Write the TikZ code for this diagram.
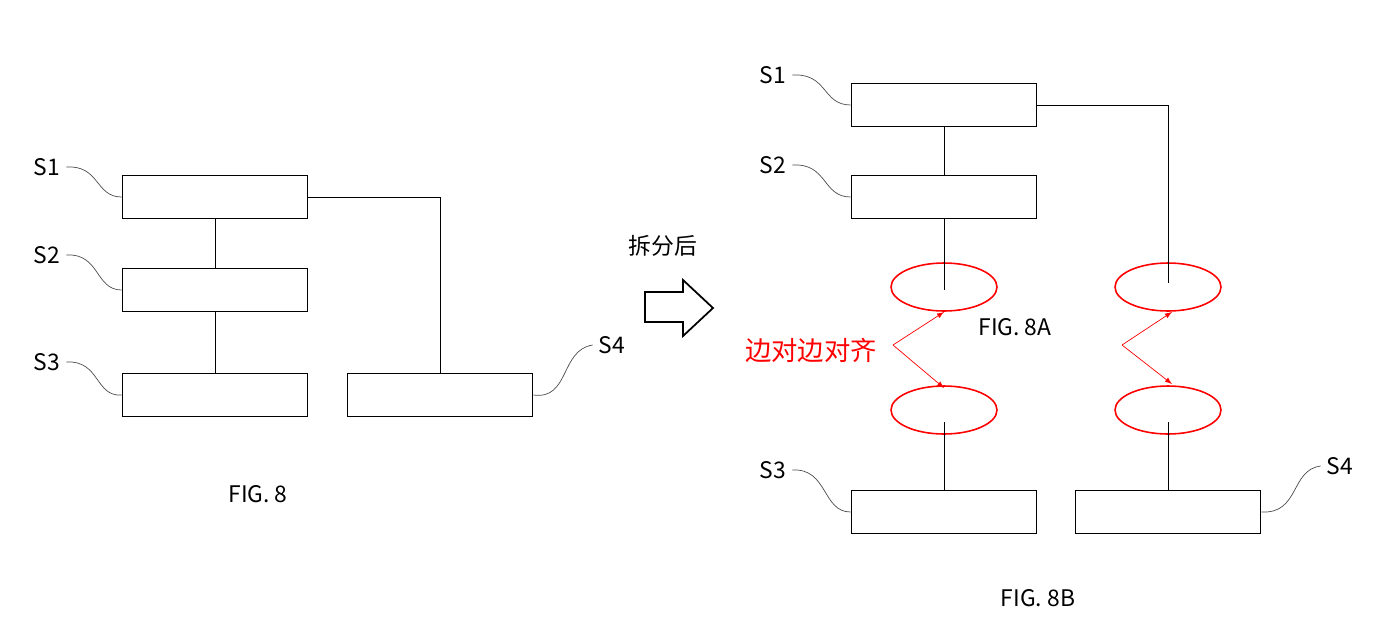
\documentclass[tikz,border=0pt]{standalone}
\usepackage{fontspec}
\setmainfont{Noto Sans CJK SC}
\usetikzlibrary{shapes}

\begin{document}
\begin{tikzpicture}[x=0.02cm,y=-0.02cm,font=\fontsize{13}{15}\selectfont]
   \tikzstyle{blk}=[draw=black, line width=1pt, minimum width=3.7cm, minimum height=0.86cm, inner sep=0pt]
   \tikzstyle{ring}=[ellipse, draw=red, line width=0.9pt, minimum width=2.12cm, minimum height=0.96cm]
   \tikzstyle{lead}=[draw=black!70, thin]
   \tikzstyle{zig}=[draw=red, thin, -latex]
   \useasboundingbox (0,0) rectangle (1379,623);
   % FIG. 8
   \node[blk] (a1) at (215,197) {};
   \node[blk] (a2) at (215,290) {};
   \node[blk] (a3) at (215,395) {};
   \node[blk] (a4) at (440,395) {};
   \draw (a1.south) -- (a2.north);
   \draw (a2.south) -- (a3.north);
   \draw (a1.east) -| (a4.north);
   \node (la1) at (47,167) {S1};
   \node (la2) at (47,255) {S2};
   \node (la3) at (47,362) {S3};
   \node (la4) at (612,345) {S4};
   \path[lead] (la1.east) .. controls (100,165) and (95,197) .. (a1.west);
   \path[lead] (la2.east) .. controls (100,253) and (95,290) .. (a2.west);
   \path[lead] (la3.east) .. controls (100,360) and (95,397) .. (a3.west);
   \path[lead] (la4.west) .. controls (560,350) and (570,400) .. (a4.east);
   \node (fig8) at (258,494) {FIG. 8};
   % split arrow
   \node (split) at (663,246) {拆分后};
   \draw[line width=1pt] (645,292) -- (683,292) -- (683,280) -- (713,308) -- (683,336)
        -- (683,322) -- (645,322) -- cycle;
   % FIG. 8B
   \node[blk] (b1) at (944,105) {};
   \node[blk] (b2) at (944,197) {};
   \node[blk] (b3) at (944,512) {};
   \node[blk] (b4) at (1168,512) {};
   \node[ring] (e1) at (944,287) {};
   \node[ring] (e2) at (1168,287) {};
   \node[ring] (e3) at (944,410) {};
   \node[ring] (e4) at (1168,410) {};
   \coordinate (t1) at (944,290);
   \coordinate (t2) at (1168,283);
   \coordinate (u1) at (944,422);
   \coordinate (u2) at (1168,422);
   \draw (b1.south) -- (b2.north);
   \draw (b2.south) -- (t1);
   \draw (b1.east) -| (t2);
   \draw (b3.north) -- (u1);
   \draw (b4.north) -- (u2);
   \node (lb1) at (773,75) {S1};
   \node (lb2) at (773,165) {S2};
   \node (lb3) at (773,470) {S3};
   \node (lb4) at (1340,466) {S4};
   \path[lead] (lb1.east) .. controls (828,73) and (822,105) .. (b1.west);
   \path[lead] (lb2.east) .. controls (828,163) and (822,197) .. (b2.west);
   \path[lead] (lb3.east) .. controls (828,468) and (822,512) .. (b3.west);
   \path[lead] (lb4.west) .. controls (1290,470) and (1300,514) .. (b4.east);
   \node[red, font=\fontsize{15}{17}\selectfont] (align) at (811,350) {边对边对齐};
   \coordinate (z1) at (893,345);
   \coordinate (z2) at (1122,345);
   \path[zig] (z1) -- (944,312);
   \path[zig] (z1) -- (944,388);
   \path[zig] (z2) -- (1172,312);
   \path[zig] (z2) -- (1172,384);
   \node (fig8a) at (1015,327) {FIG. 8A};
   \node (fig8b) at (1038,598) {FIG. 8B};
\end{tikzpicture}
\end{document}
